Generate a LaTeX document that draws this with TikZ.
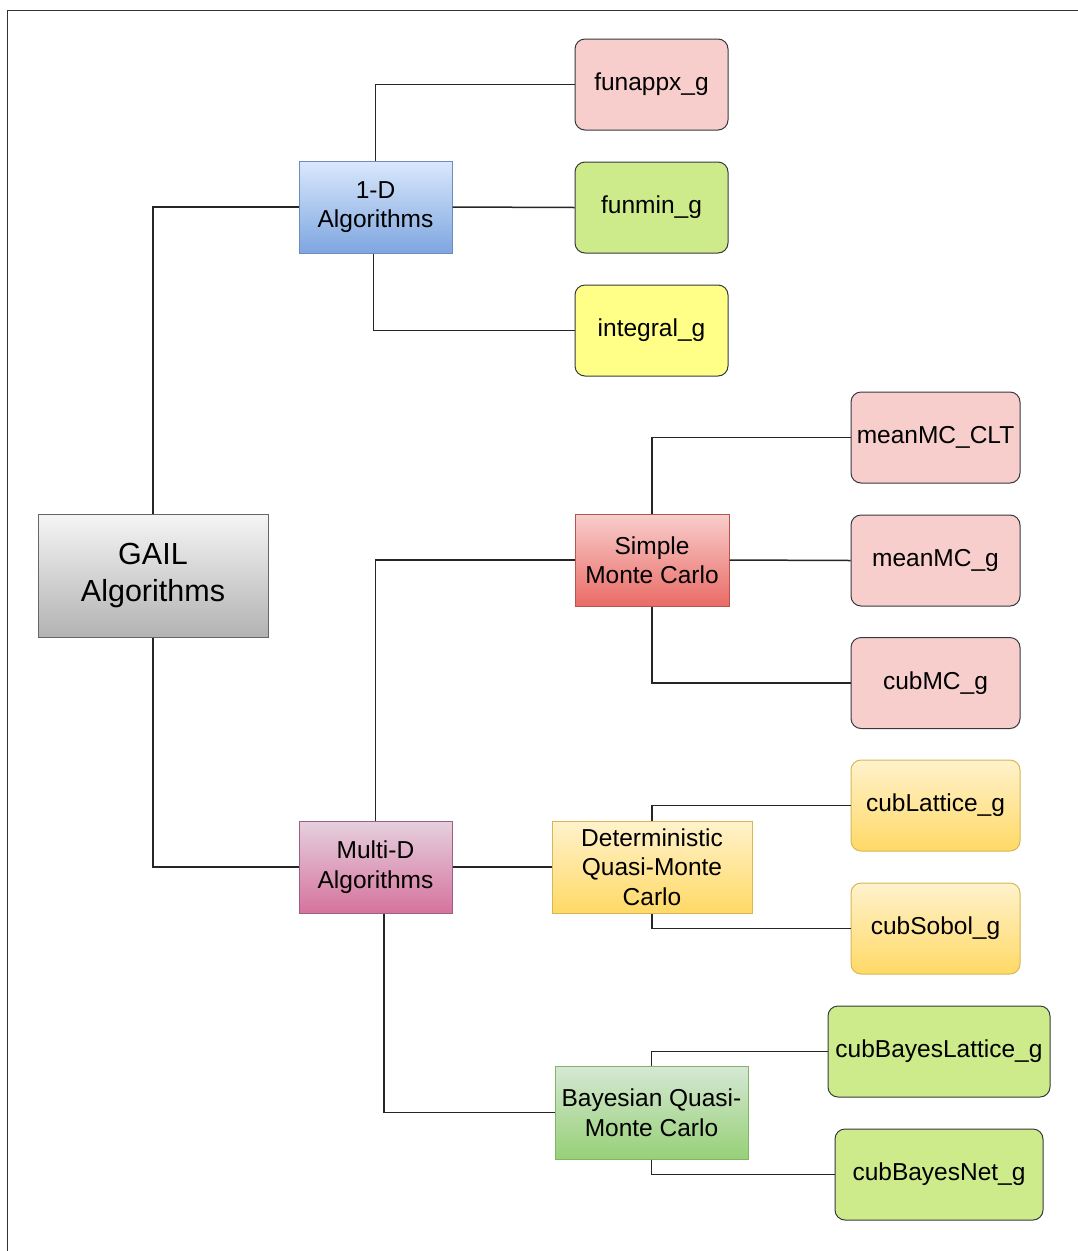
\documentclass[tikz,border=0pt]{standalone}
\usepackage{fontspec}
\setmainfont{Liberation Sans}
\usepackage{tikz}

\definecolor{edgegray}{HTML}{36393D}
\definecolor{pinkfill}{HTML}{F8CECC}
\definecolor{limefill}{HTML}{CDEB8B}
\definecolor{lemonfill}{HTML}{FFFF88}

\begin{document}
\begin{tikzpicture}[x=1pt,y=-1pt,
    every node/.style={font=\fontsize{24.5}{29.5}\selectfont,align=center,inner sep=0pt},
    branch/.style={draw,line width=1pt,minimum width=153pt,minimum height=92pt},
    leaf/.style={draw=edgegray,line width=1pt,rounded corners=10pt,minimum width=153pt,minimum height=91pt},
    wire/.style={draw=black!85,line width=1.5pt}]
  \useasboundingbox (0,0) rectangle (1077,1251);
  \draw[color=black!80,line width=1.5pt] (7.5,1260) -- (7.5,10.5) -- (1085,10.5);

  % left column
  \node[branch,minimum width=230pt,minimum height=123pt,draw=black!60,top color=black!4,bottom color=black!30,
    font=\fontsize{30.5}{37}\selectfont] (gail) at (153,575.5) {GAIL\\Algorithms};
  \node[branch,draw={rgb,255:red,108;green,142;blue,191},top color={rgb,255:red,218;green,232;blue,252},
    bottom color={rgb,255:red,126;green,166;blue,224}] (oned) at (375.5,207) {1-D\\Algorithms};
  \node[branch,draw={rgb,255:red,153;green,97;blue,133},top color={rgb,255:red,230;green,208;blue,222},
    bottom color={rgb,255:red,213;green,115;blue,157}] (multid) at (375.5,867) {Multi-D\\Algorithms};

  % 1-D leaves
  \node[leaf,fill=pinkfill] (funappx) at (651.5,84.5) {funappx\_g};
  \node[leaf,fill=limefill] (funmin) at (651.5,207.5) {funmin\_g};
  \node[leaf,fill=lemonfill] (integral) at (651.5,330.5) {integral\_g};

  % multi-D groups
  \node[branch,minimum width=154pt,draw={rgb,255:red,184;green,84;blue,80},top color=pinkfill,
    bottom color={rgb,255:red,234;green,107;blue,102}] (simplemc) at (652,560) {Simple\\Monte Carlo};
  \node[branch,minimum width=200pt,draw={rgb,255:red,214;green,182;blue,86},top color={rgb,255:red,255;green,242;blue,204},
    bottom color={rgb,255:red,255;green,217;blue,102}] (detqmc) at (652,867) {Deterministic\\Quasi-Monte\\Carlo};
  \node[branch,minimum width=193pt,minimum height=93pt,draw={rgb,255:red,130;green,179;blue,102},top color={rgb,255:red,213;green,232;blue,212},
    bottom color={rgb,255:red,151;green,208;blue,119}] (bayesqmc) at (651.5,1112.5) {Bayesian Quasi-\\Monte Carlo};

  \node[leaf,minimum width=169pt,fill=pinkfill] (meanclt) at (935.5,437.5) {meanMC\_CLT};
  \node[leaf,minimum width=169pt,fill=pinkfill] (meanmc) at (935.5,560.5) {meanMC\_g};
  \node[leaf,minimum width=169pt,fill=pinkfill] (cubmc) at (935.5,683) {cubMC\_g};
  \node[leaf,minimum width=169pt,draw={rgb,255:red,214;green,182;blue,86},top color={rgb,255:red,255;green,242;blue,204},
    bottom color={rgb,255:red,255;green,217;blue,102}] (cublattice) at (935.5,805.5) {cubLattice\_g};
  \node[leaf,minimum width=169pt,draw={rgb,255:red,214;green,182;blue,86},top color={rgb,255:red,255;green,242;blue,204},
    bottom color={rgb,255:red,255;green,217;blue,102}] (cubsobol) at (935.5,928.5) {cubSobol\_g};
  \node[leaf,minimum width=222pt,fill=limefill] (bayeslattice) at (939,1051.5) {cubBayesLattice\_g};
  \node[leaf,minimum width=208pt,fill=limefill] (bayesnet) at (939,1174.5) {cubBayesNet\_g};

  % connectors
  \draw[wire] (gail.north) |- (oned.west);
  \draw[wire] (gail.south) |- (multid.west);
  \draw[wire] (oned.north) |- (funappx.west);
  \draw[wire] (oned.east) -- (funmin.west);
  \draw[wire] ([xshift=-2pt]oned.south) |- (integral.west);
  \draw[wire] (multid.north) |- (simplemc.west);
  \draw[wire] (multid.east) -- (detqmc.west);
  \draw[wire] ([xshift=8.5pt]multid.south) |- (bayesqmc.west);
  \draw[wire] (simplemc.north) |- (meanclt.west);
  \draw[wire] (simplemc.east) -- (meanmc.west);
  \draw[wire] (simplemc.south) |- (cubmc.west);
  \draw[wire] (detqmc.north) |- (cublattice.west);
  \draw[wire] (detqmc.south) |- (cubsobol.west);
  \draw[wire] (bayesqmc.north) |- (bayeslattice.west);
  \draw[wire] (bayesqmc.south) |- (bayesnet.west);
\end{tikzpicture}
\end{document}
